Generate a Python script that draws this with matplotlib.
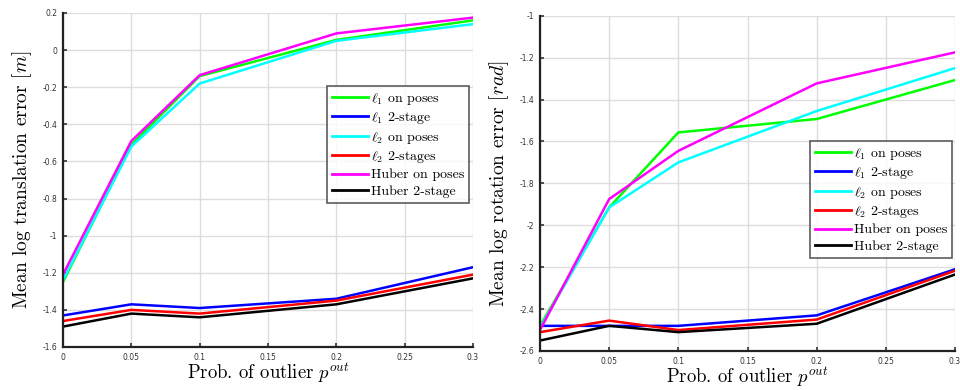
import matplotlib
matplotlib.use("Agg")
import matplotlib.pyplot as plt

plt.rcParams['mathtext.fontset'] = 'cm'
plt.rcParams['axes.unicode_minus'] = False

x = [0, 0.05, 0.1, 0.2, 0.3]
labels = [r'$\ell_1$ on poses', r'$\ell_1$ 2-stage', r'$\ell_2$ on poses',
          r'$\ell_2$ 2-stages', 'Huber on poses', 'Huber 2-stage']
colors = ['#00ff00', '#0000ff', '#00ffff', '#ff0000', '#ff00ff', '#000000']

trans_l1_poses = [-1.25, -0.51, -0.14, 0.055, 0.16]
trans_l1_2stage = [-1.43, -1.37, -1.39, -1.34, -1.17]
trans_l2_poses = [-1.24, -0.52, -0.18, 0.05, 0.14]
trans_l2_2stage = [-1.46, -1.40, -1.42, -1.35, -1.21]
trans_huber_poses = [-1.21, -0.49, -0.135, 0.09, 0.175]
trans_huber_2stage = [-1.49, -1.42, -1.44, -1.37, -1.23]

rot_l1_poses = [-2.48, -1.915, -1.557, -1.493, -1.307]
rot_l1_2stage = [-2.48, -2.48, -2.48, -2.43, -2.21]
rot_l2_poses = [-2.49, -1.915, -1.70, -1.455, -1.25]
rot_l2_2stage = [-2.51, -2.455, -2.50, -2.45, -2.217]
rot_huber_poses = [-2.50, -1.875, -1.645, -1.323, -1.175]
rot_huber_2stage = [-2.55, -2.48, -2.51, -2.47, -2.235]

trans = [trans_l1_poses, trans_l1_2stage, trans_l2_poses, trans_l2_2stage, trans_huber_poses, trans_huber_2stage]
rot = [rot_l1_poses, rot_l1_2stage, rot_l2_poses, rot_l2_2stage, rot_huber_poses, rot_huber_2stage]

xticks = [0, 0.05, 0.1, 0.15, 0.2, 0.25, 0.3]
xticklabels = ['0', '0.05', '0.1', '0.15', '0.2', '0.25', '0.3']

fig = plt.figure(figsize=(9.6, 3.9), dpi=100)
W, H = 960, 390
ax1 = fig.add_axes([63/W, 1-347/H, (473-63)/W, (347-13)/H])
ax2 = fig.add_axes([540/W, 1-351/H, (955-540)/W, (351-15.7)/H])

serif = 'cmr10'

def style(ax, data, ylim, yticks, ylabel, legbox):
    for d, c, l in zip(data, colors, labels):
        ax.plot(x, d, color=c, lw=1.8, label=l)
    ax.set_xlim(0, 0.3)
    ax.set_ylim(*ylim)
    ax.set_xticks(xticks)
    ax.set_xticklabels(xticklabels)
    ax.set_yticks(yticks)
    ax.set_yticklabels([('%g' % v) for v in yticks])
    ax.grid(True, color='#dddddd', lw=1.0)
    ax.set_axisbelow(True)
    for s in ['top', 'right']:
        ax.spines[s].set_visible(False)
    for s in ['left', 'bottom']:
        ax.spines[s].set_linewidth(1.6)
        ax.spines[s].set_color('#222222')
    ax.tick_params(direction='in', length=3, width=1.2, labelsize=5.5, pad=4,
                   colors='#333333')
    ax.set_xlabel(r'Prob. of outlier $p^{out}$', fontsize=13.5, family=serif, labelpad=0)
    ax.set_ylabel(ylabel, fontsize=14, family=serif, labelpad=6)
    leg = ax.legend(loc='upper left', bbox_to_anchor=legbox, frameon=True, fancybox=False,
                    prop={'family': serif, 'size': 10}, handlelength=2.6, handletextpad=0.2,
                    labelspacing=0.25, borderpad=0.35, borderaxespad=0)
    leg.get_frame().set_edgecolor('#333333')
    leg.get_frame().set_linewidth(1.2)
    for h in leg.get_lines():
        h.set_linewidth(2.0)

style(ax1, trans, (-1.6, 0.2), [-1.6, -1.4, -1.2, -1, -0.8, -0.6, -0.4, -0.2, 0, 0.2],
      r'Mean log translation error [$m$]', ((327-63)/410, (347-86)/334))
style(ax2, rot, (-2.6, -1.0), [-2.6, -2.4, -2.2, -2, -1.8, -1.6, -1.4, -1.2, -1],
      r'Mean log rotation error [$rad$]', ((810-540)/415, (351-141)/335.3))

fig.savefig('out.png', dpi=100)
